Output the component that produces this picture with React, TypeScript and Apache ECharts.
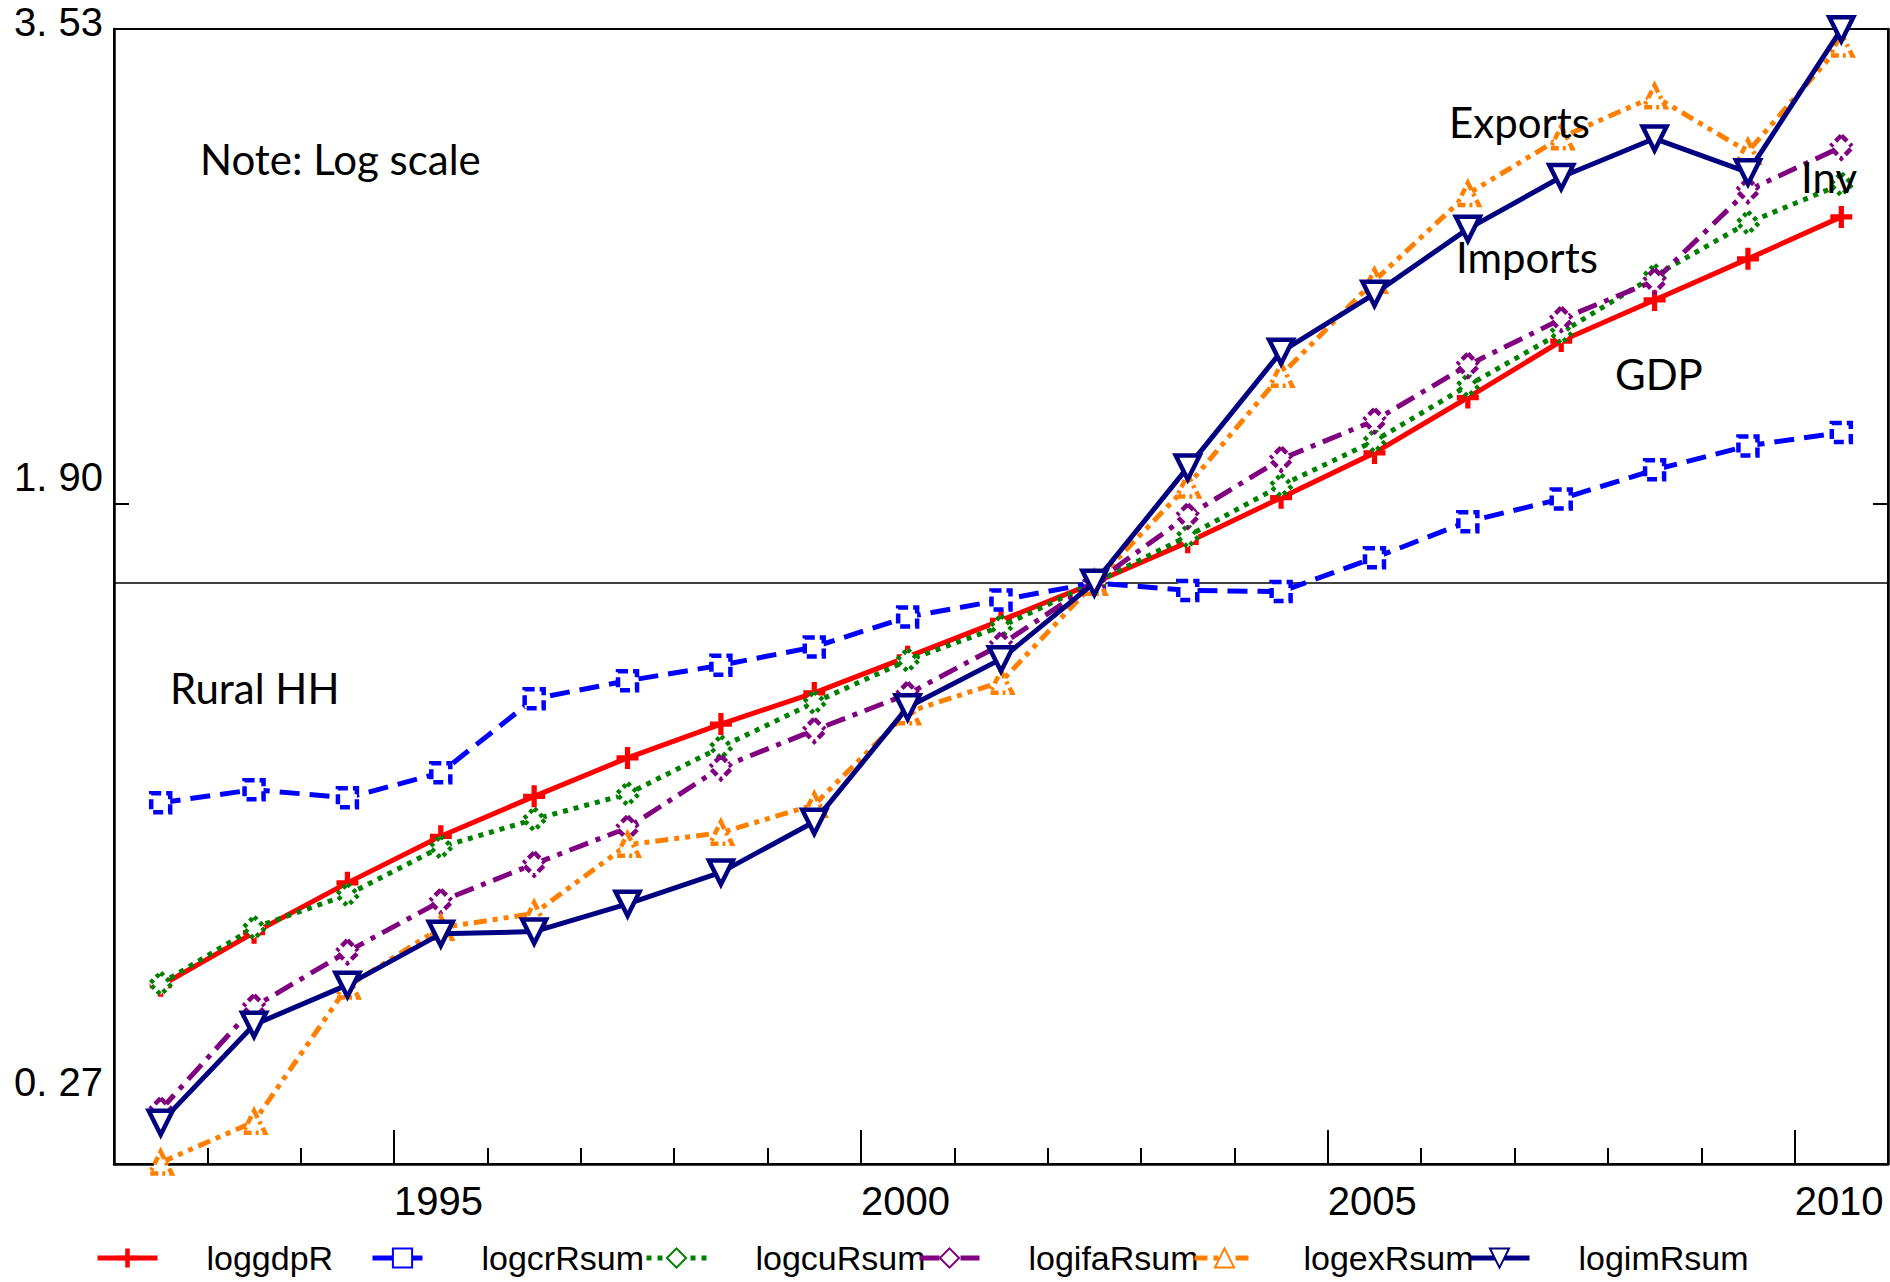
import React, { useEffect, useRef } from "react";
import * as echarts from "echarts";

// Years (observations plotted at mid-year)
const years = [1992, 1993, 1994, 1995, 1996, 1997, 1998, 1999, 2000, 2001, 2002, 2003, 2004, 2005, 2006, 2007, 2008, 2009, 2010];

// Log values relative to 2002
const loggdpR = [-1.383, -1.201, -1.030, -0.870, -0.733, -0.601, -0.485, -0.378, -0.254, -0.129, 0, 0.139, 0.292, 0.446, 0.636, 0.830, 0.971, 1.112, 1.256];
const logcrRsum = [-0.755, -0.710, -0.738, -0.652, -0.398, -0.336, -0.283, -0.220, -0.117, -0.059, 0, -0.026, -0.030, 0.086, 0.210, 0.288, 0.388, 0.470, 0.516];
const logcuRsum = [-1.376, -1.184, -1.071, -0.907, -0.812, -0.725, -0.564, -0.411, -0.266, -0.150, 0, 0.160, 0.334, 0.487, 0.677, 0.859, 1.054, 1.236, 1.368];
const logifaRsum = [-1.809, -1.455, -1.266, -1.093, -0.965, -0.841, -0.634, -0.506, -0.382, -0.212, 0, 0.230, 0.425, 0.557, 0.747, 0.905, 1.037, 1.347, 1.496];
const logexRsum = [-1.990, -1.850, -1.386, -1.184, -1.135, -0.899, -0.858, -0.762, -0.444, -0.340, 0, 0.334, 0.714, 1.037, 1.335, 1.529, 1.670, 1.480, 1.848];
const logimRsum = [-1.853, -1.517, -1.380, -1.205, -1.197, -1.102, -0.994, -0.820, -0.427, -0.262, 0, 0.396, 0.793, 0.992, 1.215, 1.393, 1.525, 1.409, 1.900];

// Axis labels
const yLabelTexts = ["3. 53", "1. 90", "0. 27"];
const yLabelValues = [1.857, 0.295, -1.781];
const yTickValues = [0.271];
const xLabelYears = [1995, 2000, 2005, 2010];

const annotations = [
  { text: "Note: Log scale", x: 200, y: 159 },
  { text: "Rural HH", x: 170, y: 688 },
  { text: "Exports", x: 1449, y: 122 },
  { text: "Imports", x: 1456, y: 257 },
  { text: "GDP", x: 1615, y: 374 },
  { text: "Inv", x: 1801, y: 177 },
];

const PLUS = "path://M8,0H13V8H21V13H13V21H8V13H0V8H8Z";

export default function App() {
  const ref = useRef<HTMLDivElement>(null);
  useEffect(() => {
    if (!ref.current) return;
    const chart = echarts.init(ref.current, null, { renderer: "svg" });
    const pts = (vals: number[]) => vals.map((v, i) => [years[i] + 0.5, v]);

    const seriesDefs = [
      { name: "loggdpR", data: loggdpR, color: "#FF0000", type: "solid", symbol: PLUS, size: 22, fill: "#FF0000", rotate: 0, border: "solid", bw: 0 },
      { name: "logcrRsum", data: logcrRsum, color: "#0000FF", type: [20, 10], symbol: "rect", size: 19, fill: "#fff", rotate: 0, border: [10, 5], bw: 4.5 },
      { name: "logcuRsum", data: logcuRsum, color: "#008000", type: [5, 6], symbol: "diamond", size: 22, fill: "#fff", rotate: 0, border: [4, 4], bw: 4.5 },
      { name: "logifaRsum", data: logifaRsum, color: "#800080", type: [20, 8, 5, 8], symbol: "diamond", size: 23, fill: "#fff", rotate: 0, border: [8, 4, 3, 4], bw: 4.5 },
      { name: "logexRsum", data: logexRsum, color: "#FF8000", type: [13, 6, 5, 6, 5, 6], symbol: "triangle", size: 22, fill: "#fff", rotate: 0, border: [8, 4, 3, 4], bw: 4.5 },
      { name: "logimRsum", data: logimRsum, color: "#000080", type: "solid", symbol: "triangle", size: 24, fill: "#fff", rotate: 180, border: "solid", bw: 4.5 },
    ];

    const series: any[] = seriesDefs.map((s, idx) => ({
      name: s.name,
      type: "line",
      data: pts(s.data),
      xAxisIndex: 0,
      yAxisIndex: 0,
      clip: false,
      symbol: s.symbol,
      symbolSize: s.size,
      symbolRotate: s.rotate,
      showAllSymbol: true,
      lineStyle: { color: s.color, width: 5, type: s.type },
      itemStyle: { color: s.fill, borderColor: s.color, borderWidth: s.bw, borderType: s.border },
      emphasis: { disabled: true },
      z: 3 + idx,
      markLine:
        idx === 0
          ? {
              silent: true,
              symbol: "none",
              label: { show: false },
              lineStyle: { color: "#000", width: 1.5, type: "solid" },
              data: [{ yAxis: 0 }],
              z: 1,
            }
          : undefined,
    }));

    const legendLefts = [90, 365, 639, 912, 1187, 1462];
    const legends = seriesDefs.map((s, i) => ({
      data: [s.name],
      left: legendLefts[i],
      top: 1236,
      itemWidth: 60,
      itemHeight: 24,
      selectedMode: false,
      lineStyle: { width: 5 },
      textStyle: {
        fontSize: 34,
        color: "#000",
        fontFamily: "'Liberation Sans Narrow', 'Liberation Sans', Arial, sans-serif",
        padding: [0, 0, 0, 44],
      },
    }));

    const labelFont = "'Liberation Sans', Arial, sans-serif";

    const option: any = {
      animation: false,
      backgroundColor: "#fff",
      grid: {
        left: 114,
        right: 2,
        top: 29,
        bottom: 118,
        show: true,
        borderColor: "#000",
        borderWidth: 2,
        backgroundColor: "transparent",
      },
      legend: legends,
      xAxis: [
        {
          type: "value",
          position: "bottom",
          min: 1992,
          max: 2011,
          interval: 1,
          axisLine: { show: true, onZero: false, lineStyle: { color: "#000", width: 2.5 } },
          axisTick: { show: true, inside: true, length: 16, lineStyle: { color: "#000", width: 2 } },
          axisLabel: { show: false },
          splitLine: { show: false },
        },
        {
          type: "value",
          position: "bottom",
          min: 1992,
          max: 2011,
          axisLine: { show: false, onZero: false },
          axisTick: { show: true, inside: true, length: 34, customValues: xLabelYears, lineStyle: { color: "#000", width: 2 } },
          axisLabel: {
            show: true,
            customValues: xLabelYears,
            align: "left",
            margin: 17,
            fontSize: 40,
            lineHeight: 40,
            color: "#000",
            fontFamily: labelFont,
            formatter: (v: number) => String(v),
          },
          splitLine: { show: false },
        },
      ],
      yAxis: [
        {
          type: "value",
          position: "left",
          min: -1.995,
          max: 1.901,
          axisLine: { show: true, onZero: false, lineStyle: { color: "#000", width: 2.5 } },
          axisTick: { show: true, inside: true, length: 15, customValues: yTickValues, lineStyle: { color: "#000", width: 2 } },
          axisLabel: {
            show: true,
            customValues: yLabelValues,
            margin: 11,
            fontSize: 40,
            lineHeight: 40,
            verticalAlign: "bottom",
            color: "#000",
            fontFamily: labelFont,
            formatter: (v: number) => {
              let best = 0;
              yLabelValues.forEach((lv, i) => {
                if (Math.abs(lv - v) < Math.abs(yLabelValues[best] - v)) best = i;
              });
              return yLabelTexts[best];
            },
          },
          splitLine: { show: false },
        },
        {
          type: "value",
          position: "right",
          min: -1.995,
          max: 1.901,
          axisLine: { show: true, onZero: false, lineStyle: { color: "#000", width: 2.5 } },
          axisTick: { show: true, inside: true, length: 15, customValues: yTickValues, lineStyle: { color: "#000", width: 2 } },
          axisLabel: { show: false },
          splitLine: { show: false },
        },
      ],
      series,
      graphic: annotations.map((a) => ({
        type: "text",
        x: a.x,
        y: a.y,
        z: 20,
        style: {
          text: a.text,
          fill: "#000",
          fontSize: 42,
          fontFamily: "Lato, 'Open Sans', sans-serif",
          verticalAlign: "middle",
          align: "left",
        },
      })),
    };

    chart.setOption(option);
    return () => chart.dispose();
  }, []);

  return <div ref={ref} style={{ position: "fixed", left: 0, top: 0, width: 1890, height: 1282, background: "#fff" }} />;
}
